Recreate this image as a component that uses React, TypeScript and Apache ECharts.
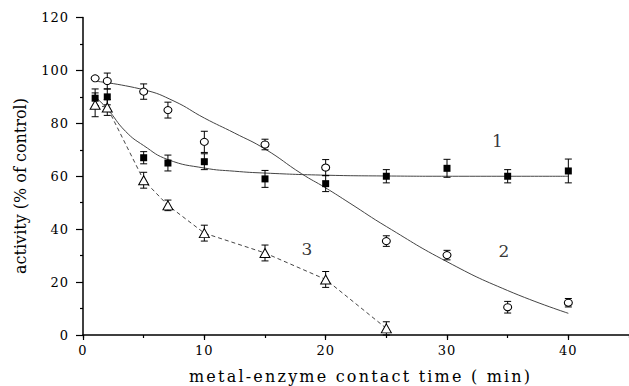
import React, { useEffect, useRef } from "react";
import * as echarts from "echarts";

// ---- data ----
const timePoints = [1, 2, 5, 7, 10, 15, 20, 25, 30, 35, 40];
const curve1Activity = [89.5, 90, 67, 65, 65.5, 59, 57.2, 60, 63, 60, 62];
const curve1Error = [3.5, 3, 2.3, 3, 3, 3.2, 3, 2.5, 3.4, 2.5, 4.5];
const curve2Activity = [97, 96, 92, 85, 73, 72, 63.3, 35.5, 30.2, 10.5, 12.2];
const curve2Error = [0, 3, 2.9, 3, 4, 2, 3, 2, 1.8, 2.2, 1.6];
const curve3Time = [1, 2, 5, 7, 10, 15, 20, 25];
const curve3Activity = [87, 86, 58.5, 49, 38.5, 31, 21, 2.5];
const curve3Error = [4.5, 3, 3, 2, 3, 3, 3, 2.5];

const fit1Time = [1, 2, 3.5, 5, 7, 10, 12.5, 15, 20, 25, 30, 40];
const fit1Activity = [90, 85.5, 77, 71.6, 66.3, 63.1, 61.9, 61.2, 60.4, 60.1, 60, 60];
const fit2Time = [0.9, 5, 7.5, 10, 12.5, 15, 18, 20, 22, 25, 30, 35, 40];
const fit2Activity = [96, 92.7, 88.4, 82, 76.3, 70.3, 61, 55.6, 49.8, 41, 27.7, 16.8, 8.2];

const curveLabels = ["1", "2", "3"];
const curveLabelTime = [34.15, 34.7, 18.45];
const curveLabelActivity = [73.2, 31.7, 32.6];

const xTickLabels = ["0", "10", "20", "30", "40"];
const yTickLabels = ["0", "20", "40", "60", "80", "100", "120"];
const xTitle = "metal-enzyme contact time ( min)";
const yTitle = "activity (% of control)";

const FONT = "DejaVu Serif";

function errData(xs: number[], ys: number[], es: number[]) {
  return xs.map((x, i) => [x, ys[i] - es[i], ys[i] + es[i]]);
}

function renderErr(params: any, api: any) {
  const x = api.value(0);
  const lo = api.value(1);
  const hi = api.value(2);
  if (hi - lo <= 0) return null;
  const top = api.coord([x, hi]);
  const bot = api.coord([x, lo]);
  const w = 3.5;
  const st = { stroke: "#000", lineWidth: 1 };
  return {
    type: "group",
    children: [
      { type: "line", shape: { x1: top[0], y1: top[1], x2: bot[0], y2: bot[1] }, style: st },
      { type: "line", shape: { x1: top[0] - w, y1: top[1], x2: top[0] + w, y2: top[1] }, style: st },
      { type: "line", shape: { x1: bot[0] - w, y1: bot[1], x2: bot[0] + w, y2: bot[1] }, style: st },
    ],
  };
}

function zip(a: number[], b: number[]) {
  return a.map((v, i) => [v, b[i]]);
}

export default function App() {
  const ref = useRef<HTMLDivElement>(null);
  useEffect(() => {
    const el = ref.current!;
    const chart = echarts.init(el, null, { renderer: "svg", width: 629, height: 386 });
    const grid = { left: 83, top: 17.5, width: 552, height: 317.5 };
    const option: any = {
      animation: false,
      backgroundColor: "#fff",
      textStyle: { fontFamily: FONT },
      grid,
      xAxis: [
        {
          type: "value",
          min: 0,
          max: 45,
          interval: 10,
          splitLine: { show: false },
          axisLine: { onZero: false, lineStyle: { color: "#000", width: 1.5 } },
          axisTick: { show: true, length: 5, lineStyle: { color: "#000", width: 1.2 } },
          axisLabel: {
            showMaxLabel: false,
            margin: 9,
            color: "#000",
            fontFamily: FONT,
            fontSize: 13,
            formatter: (v: number) => (xTickLabels.includes(String(v)) ? String(v) : ""),
          },
        },
        {
          type: "value",
          min: 0,
          max: 45,
          interval: 5,
          position: "bottom",
          splitLine: { show: false },
          axisLine: { show: false },
          axisTick: { show: true, length: 3, lineStyle: { color: "#000", width: 1.2 } },
          axisLabel: { show: false },
        },
      ],
      yAxis: {
        type: "value",
        min: 0,
        max: 120,
        interval: 20,
        splitLine: { show: false },
        axisLine: { onZero: false, lineStyle: { color: "#000", width: 1.5 } },
        axisTick: { show: true, length: 7, lineStyle: { color: "#000", width: 1.2 } },
        minorTick: { show: true, splitNumber: 2, length: 3, lineStyle: { color: "#000", width: 1.2 } },
        axisLabel: {
          margin: 14,
          color: "#000",
          fontFamily: FONT,
          fontSize: 13,
          formatter: (v: number) => (yTickLabels.includes(String(v)) ? String(v) : ""),
        },
      },
      graphic: [
        {
          type: "text",
          x: 189,
          y: 376,
          style: {
            text: xTitle,
            fontFamily: FONT,
            fontSize: 16,
            fill: "#000",
            textAlign: "left",
            textVerticalAlign: "middle",
          },
        },
        {
          type: "text",
          x: 20,
          y: 186,
          rotation: Math.PI / 2,
          style: {
            text: yTitle,
            fontFamily: FONT,
            fontSize: 16,
            fill: "#000",
            textAlign: "center",
            textVerticalAlign: "middle",
          },
        },
      ],
      series: [
        {
          type: "line",
          data: zip(fit1Time, fit1Activity),
          smooth: 0.5,
          showSymbol: false,
          lineStyle: { color: "#444", width: 1 },
          z: 1,
        },
        {
          type: "line",
          data: zip(fit2Time, fit2Activity),
          smooth: 0.5,
          showSymbol: false,
          lineStyle: { color: "#444", width: 1 },
          z: 1,
        },
        {
          type: "line",
          data: zip(curve3Time, curve3Activity),
          showSymbol: false,
          lineStyle: { color: "#444", width: 1, type: [4, 3] },
          z: 1,
        },
        { type: "custom", renderItem: renderErr, data: errData(timePoints, curve1Activity, curve1Error), z: 2 },
        { type: "custom", renderItem: renderErr, data: errData(timePoints, curve2Activity, curve2Error), z: 2 },
        { type: "custom", renderItem: renderErr, data: errData(curve3Time, curve3Activity, curve3Error), z: 2 },
        {
          type: "scatter",
          data: zip(timePoints, curve2Activity),
          symbol: "circle",
          symbolSize: [8, 7],
          itemStyle: { color: "#fff", borderColor: "#000", borderWidth: 1, opacity: 1 },
          z: 3,
        },
        {
          type: "scatter",
          data: zip(curve3Time, curve3Activity),
          symbol: "triangle",
          symbolSize: [10, 9],
          itemStyle: { color: "#fff", borderColor: "#000", borderWidth: 1, opacity: 1 },
          z: 3,
        },
        {
          type: "scatter",
          data: zip(timePoints, curve1Activity),
          symbol: "rect",
          symbolSize: 7,
          itemStyle: { color: "#000", opacity: 1 },
          z: 4,
        },
        {
          type: "scatter",
          data: curveLabels.map((n, i) => ({ name: n, value: [curveLabelTime[i], curveLabelActivity[i]] })),
          symbolSize: 0,
          label: {
            show: true,
            position: "inside",
            formatter: (p: any) => p.name,
            fontFamily: FONT,
            fontSize: 17,
            color: "#000",
          },
          z: 5,
        },
      ],
    };
    chart.setOption(option);
    const applySpacing = () => {
      el.querySelectorAll("text").forEach((t) => {
        const s = (t.textContent || "").trim();
        if (s === xTitle) t.setAttribute("letter-spacing", "2.2");
        else if (xTickLabels.includes(s) || yTickLabels.includes(s)) t.setAttribute("letter-spacing", "1");
      });
    };
    applySpacing();
    chart.on("finished", applySpacing);
    return () => chart.dispose();
  }, []);
  return (
    <div
      ref={ref}
      style={{ position: "fixed", left: 0, top: 0, width: 629, height: 386, background: "#fff" }}
    />
  );
}
